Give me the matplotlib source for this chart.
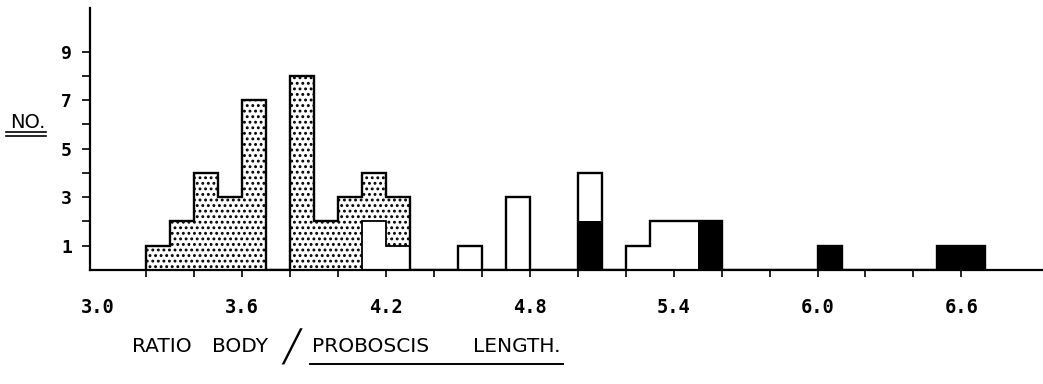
import numpy as np
import matplotlib.pyplot as plt
from matplotlib.lines import Line2D

# class width of the histogram (ratio units)
bin_width = 0.1

# stippled series: left edge of class and number of specimens
dotted_start = [3.2, 3.3, 3.4, 3.5, 3.6, 3.8, 3.9, 4.0, 4.1, 4.2]
dotted_count = [1, 2, 4, 3, 7, 8, 2, 3, 2, 2]

# open (white) series
open_start = [4.1, 4.2, 4.5, 4.7, 5.0, 5.2, 5.3, 5.4]
open_count = [2, 1, 1, 3, 2, 1, 2, 2]

# solid black series
black_start = [5.0, 5.5, 6.0, 6.5, 6.6]
black_count = [2, 2, 1, 1, 1]

x_labels = ["3.0", "3.6", "4.2", "4.8", "5.4", "6.0", "6.6"]
y_labels = ["1", "3", "5", "7", "9"]

plt.rcParams['hatch.linewidth'] = 1.3

# common grid of classes
edges = np.round(np.arange(3.2, 6.7 + bin_width / 2, bin_width), 1)
lefts = edges[:-1]


def on_grid(starts, counts):
    out = np.zeros(len(lefts))
    for s, c in zip(starts, counts):
        out[np.isclose(lefts, s)] = c
    return out


black = on_grid(black_start, black_count)
opn = on_grid(open_start, open_count)
dots = on_grid(dotted_start, dotted_count)

W, H = 1043, 384
fig = plt.figure(figsize=(W / 100, H / 100), dpi=100)
ax = fig.add_axes([90 / W, 114 / H, 953 / W, 262 / H])

# stacked bars: black at the bottom, open next, stippled on top
ax.bar(lefts, black, width=bin_width, align='edge', color='black', linewidth=0)
ax.bar(lefts, opn, bottom=black, width=bin_width, align='edge',
       color='white', linewidth=0)
ax.bar(lefts, dots, bottom=black + opn, width=bin_width, align='edge',
       facecolor='white', edgecolor='black', hatch='...', linewidth=0)

# outlines drawn as steps, like the original figure
ax.stairs(black + opn, edges, baseline=0, color='black', lw=1.3)
ax.stairs(black + opn + dots, edges, baseline=0, color='black', lw=1.7)

ax.set_xlim(2.967, 6.94)
ax.set_ylim(0, 10.8)

for side in ['top', 'right']:
    ax.spines[side].set_visible(False)
for side in ['left', 'bottom']:
    ax.spines[side].set_linewidth(1.6)

tick_font = dict(family='DejaVu Sans Mono', weight='bold', size=13.5)

ax.set_xticks([float(s) for s in x_labels])
ax.set_xticklabels(x_labels, fontdict=tick_font)
ax.set_xticks(np.round(np.arange(3.2, 6.61, 0.2), 1), minor=True)
ax.xaxis.remove_overlapping_locs = False
ax.tick_params(axis='x', which='major', length=0, pad=20)
ax.tick_params(axis='x', which='minor', length=5, width=1.2, direction='out')

ax.set_yticks([int(s) for s in y_labels])
ax.set_yticklabels(y_labels, fontdict=dict(tick_font, size=13))
ax.set_yticks(range(1, 10), minor=True)
ax.yaxis.remove_overlapping_locs = False
ax.tick_params(axis='y', which='major', length=0, pad=13)
ax.tick_params(axis='y', which='minor', length=6, width=1.2, direction='out')

# y label "NO." with a double underline
fig.text(10 / W, 1 - 123 / H, "NO.", fontsize=14, family='DejaVu Sans',
         ha='left', va='center')
for yy in (132, 136):
    fig.add_artist(Line2D([6 / W, 46 / W], [1 - yy / H, 1 - yy / H],
                          transform=fig.transFigure, color='black', lw=1.2))

# x label, word by word to keep the wide spacing of the original
lab_y = 1 - 346 / H
word_font = dict(fontsize=14.5, family='DejaVu Sans', va='center', ha='center')
fig.text(162 / W, lab_y, "RATIO", **word_font)
fig.text(240 / W, lab_y, "BODY", **word_font)
fig.text(292 / W, 1 - 347 / H, "\u2571", fontsize=22, family='DejaVu Sans',
         va='center', ha='center')
t_prob = fig.text(371 / W, lab_y, "PROBOSCIS", **word_font)
t_len = fig.text(517 / W, lab_y, "LENGTH.", **word_font)

fig.canvas.draw()
b1 = t_prob.get_window_extent()
b2 = t_len.get_window_extent()
fig.add_artist(Line2D([(b1.x0 - 2) / W, (b2.x1 + 2) / W],
                      [1 - 364 / H, 1 - 364 / H],
                      transform=fig.transFigure, color='black', lw=1.4))

fig.savefig('out.png', dpi=100)
